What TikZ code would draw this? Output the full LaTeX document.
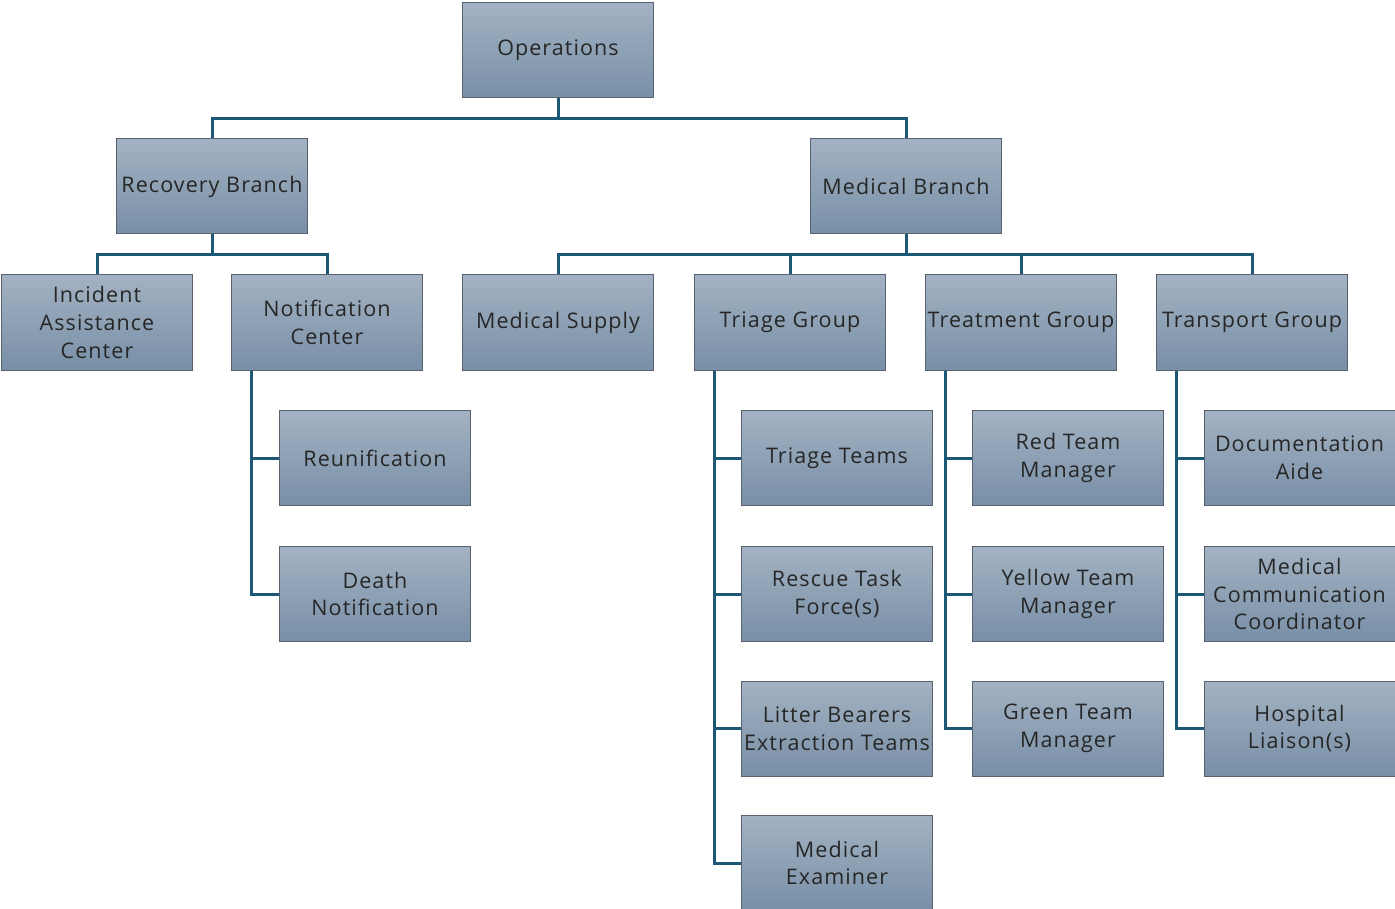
\documentclass[tikz,border=0pt]{standalone}
\usepackage{fontspec}
\setmainfont[LetterSpace=5]{Open Sans}
\definecolor{boxtop}{RGB}{163,178,194}
\definecolor{boxbot}{RGB}{120,143,167}
\definecolor{boxline}{RGB}{88,98,110}
\definecolor{connc}{RGB}{28,88,118}
\definecolor{textc}{RGB}{38,38,38}
\tikzset{
  box/.style={draw=boxline, line width=1pt, top color=boxtop, bottom color=boxbot,
    minimum width=191pt, minimum height=95pt, align=center, inner sep=1pt,
    text=textc, font=\fontsize{21.5}{27.8}\selectfont},
  conn/.style={draw=connc, line width=3pt},
}
\begin{document}
\begin{tikzpicture}[x=1pt,y=-1pt]
\useasboundingbox (0,0) rectangle (1395,909);
% level 0/1
\node[box] (ops) at (558,50.5) {Operations};
\node[box] (rec) at (212,186.5) {Recovery Branch};
\node[box] (med) at (906,186.5) {Medical Branch};
% level 2
\node[box] (iac) at (97,322.5) {Incident\\Assistance\\Center};
\node[box] (nc) at (327,322.5) {Notification\\Center};
\node[box] (ms) at (558,322.5) {Medical Supply};
\node[box] (tg) at (790,322.5) {Triage Group};
\node[box] (trg) at (1021,322.5) {Treatment Group};
\node[box] (tpg) at (1252,322.5) {Transport Group};
% level 3
\node[box] (reun) at (375,458) {Reunification};
\node[box] (dn) at (375,594) {Death\\Notification};
\node[box] (tt) at (837,458) {Triage Teams};
\node[box] (rtf) at (837,594) {Rescue Task\\Force(s)};
\node[box] (lb) at (837,728.5) {Litter Bearers\\Extraction Teams};
\node[box] (me) at (837,863) {Medical\\Examiner};
\node[box] (red) at (1068,458) {Red Team\\Manager};
\node[box] (yel) at (1068,594) {Yellow Team\\Manager};
\node[box] (grn) at (1068,728.5) {Green Team\\Manager};
\node[box] (doc) at (1299.5,458) {Documentation\\Aide};
\node[box] (mcc) at (1299.5,594) {Medical\\Communication\\Coordinator};
\node[box] (hl) at (1299.5,728.5) {Hospital\\Liaison(s)};
% connectors
\draw[conn] (ops.south) -- ++(0,20) -| (rec.north);
\draw[conn] (ops.south) -- ++(0,20) -| (med.north);
\draw[conn] (rec.south) -- ++(0,20) -| (iac.north);
\draw[conn] (rec.south) -- ++(0,20) -| (nc.north);
\draw[conn] (med.south) -- ++(0,20) -| (ms.north);
\draw[conn] (med.south) -- ++(0,20) -| (tg.north);
\draw[conn] (med.south) -- ++(0,20) -| (trg.north);
\draw[conn] (med.south) -- ++(0,20) -| (tpg.north);
\foreach \p/\c in {nc/reun, nc/dn, tg/tt, tg/rtf, tg/lb, tg/me, trg/red, trg/yel, trg/grn, tpg/doc, tpg/mcc, tpg/hl}
  \draw[conn] ([xshift=20pt]\p.south west) |- (\c.west);
\end{tikzpicture}
\end{document}
